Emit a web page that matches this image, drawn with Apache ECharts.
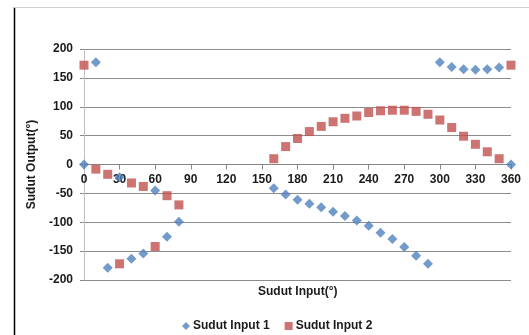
<!DOCTYPE html>
<html>
<head>
<meta charset="utf-8">
<script src="https://cdn.jsdelivr.net/npm/echarts@6/dist/echarts.min.js"></script>
<style>
  html, body { margin: 0; padding: 0; background: #fff; }
  #chart { width: 529px; height: 335px; }
</style>
</head>
<body>
<div id="chart"></div>
<script>
// Input angles (degrees); no measurements between 90 and 150
const inputAngles = [0, 10, 20, 30, 40, 50, 60, 70, 80,
  160, 170, 180, 190, 200, 210, 220, 230, 240, 250, 260,
  270, 280, 290, 300, 310, 320, 330, 340, 350, 360];

// Output angle for input 1
const outputInput1 = [0, 177, -179, -22, -163, -154, -45, -125, -99,
  -41, -52, -61, -68, -74, -82, -89, -97, -106, -118, -129,
  -143, -158, -172, 177, 169, 165, 164, 165, 168, 0];

// Output angle for input 2
const outputInput2 = [172, -8, -17, -172, -32, -38, -142, -54, -70,
  10, 31, 45, 57, 66, 74, 80, 84, 90, 93, 94,
  94, 92, 87, 77, 64, 49, 35, 22, 10, 172];

const xTicks = { min: 0, max: 360, step: 30 };
const yTicks = { min: -200, max: 200, step: 50 };

const seriesNames = ['Sudut Input 1', 'Sudut Input 2'];
const xTitle = 'Sudut Input(°)';
const yTitle = 'Sudut Output(°)';

const FONT = '"Liberation Sans", Arial, sans-serif';
const pair = (xs, ys) => xs.map((x, i) => [x, ys[i]]);

// Plot box
const GRID = { left: 84, right: 18, top: 49, bottom: 55 };
const plotHeight = 335 - GRID.top - GRID.bottom;
// Raise the horizontal axis from the bottom edge to the y = 0 level
const zeroFromBottom = plotHeight * (0 - yTicks.min) / (yTicks.max - yTicks.min);

const chart = echarts.init(document.getElementById('chart'), null, { renderer: 'canvas' });

chart.setOption({
  animation: false,
  backgroundColor: '#ffffff',
  grid: Object.assign({ containLabel: false }, GRID),
  xAxis: {
    type: 'value',
    min: xTicks.min, max: xTicks.max, interval: xTicks.step,
    offset: -zeroFromBottom,
    axisLine: { show: true, onZero: false, lineStyle: { color: '#868686', width: 1 } },
    axisTick: { show: true, inside: false, length: 5, lineStyle: { color: '#868686' } },
    axisLabel: { color: '#1a1a1a', fontFamily: FONT, fontWeight: 'bold', fontSize: 12, margin: 9 },
    splitLine: { show: false }
  },
  yAxis: {
    type: 'value',
    min: yTicks.min, max: yTicks.max, interval: yTicks.step,
    name: yTitle,
    nameLocation: 'middle',
    nameGap: 38,
    nameRotate: 90,
    nameTextStyle: { color: '#1a1a1a', fontFamily: FONT, fontWeight: 'bold', fontSize: 12 },
    axisLine: { show: true, onZero: false, lineStyle: { color: '#c0c0c0', width: 1 } },
    axisTick: { show: true, inside: false, length: 4, lineStyle: { color: '#868686' } },
    axisLabel: { color: '#1a1a1a', fontFamily: FONT, fontWeight: 'bold', fontSize: 12, margin: 11 },
    splitLine: { show: true, lineStyle: { color: '#8c8c8c', width: 1 } }
  },
  legend: {
    data: [
      { name: seriesNames[0], icon: 'diamond' },
      { name: seriesNames[1], icon: 'rect' }
    ],
    left: 177,
    top: 315,
    itemWidth: 8,
    itemHeight: 8,
    itemGap: 15,
    textStyle: { color: '#1a1a1a', fontFamily: FONT, fontWeight: 'bold', fontSize: 12, padding: [0, 0, 0, -2] }
  },
  graphic: [
    { type: 'line', shape: { x1: 14.5, y1: 7, x2: 14.5, y2: 335 }, style: { stroke: '#000', lineWidth: 1.5 } },
    { type: 'line', shape: { x1: 14, y1: 7.5, x2: 529, y2: 7.5 }, style: { stroke: '#d0d0d0', lineWidth: 1 } },
    {
      type: 'text', left: 258, top: 286,
      style: { text: xTitle, fill: '#1a1a1a', font: 'bold 12px ' + FONT }
    }
  ],
  series: [
    {
      name: seriesNames[0],
      type: 'scatter',
      symbol: 'diamond',
      symbolSize: 10,
      itemStyle: { color: '#4F81BD' },
      data: pair(inputAngles, outputInput1)
    },
    {
      name: seriesNames[1],
      type: 'scatter',
      symbol: 'rect',
      symbolSize: 9,
      itemStyle: { color: '#C0504D' },
      data: pair(inputAngles, outputInput2)
    }
  ]
});
</script>
</body>
</html>
